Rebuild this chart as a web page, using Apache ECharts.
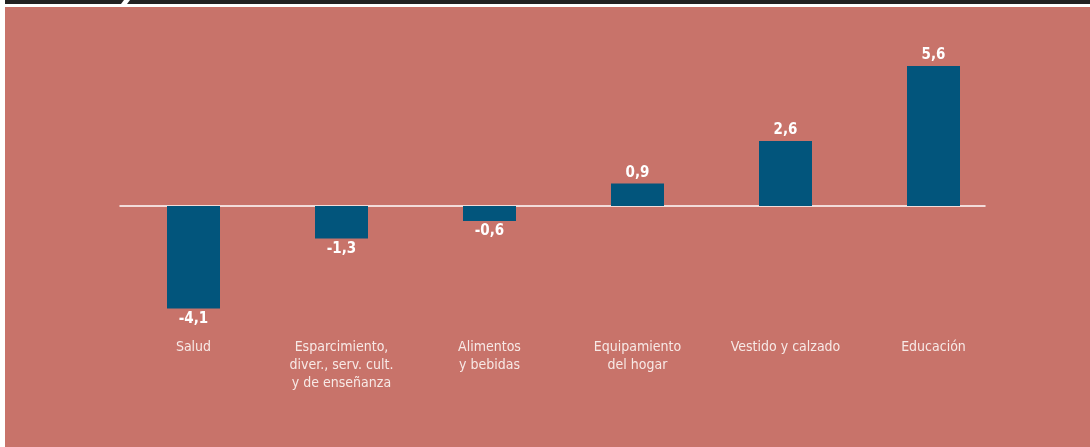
<!DOCTYPE html>
<html>
<head>
<meta charset="utf-8">
<script src="https://cdn.jsdelivr.net/npm/echarts@6/dist/echarts.min.js"></script>
<style>
  html, body { margin: 0; padding: 0; background: #ffffff; }
  #container { width: 1090px; height: 447px; }
</style>
</head>
<body>
<div id="container"></div>
<script>
var categories = [
    'Salud',
    'Esparcimiento,\ndiver., serv. cult.\ny de enseñanza',
    'Alimentos\ny bebidas',
    'Equipamiento\ndel hogar',
    'Vestido y calzado',
    'Educación'
];
var variation = [-4.1, -1.3, -0.6, 0.9, 2.6, 5.6];

var barColor = '#02557c';
var bgColor = '#c8736a';
var fontName = '"DejaVu Sans Condensed", "DejaVu Sans", sans-serif';

var dom = document.getElementById('container');
var myChart = echarts.init(dom, null, { renderer: 'canvas' });

var option = {
    backgroundColor: '#ffffff',
    animation: false,
    graphic: [
        { type: 'rect', z: -10, shape: { x: 5, y: 0, width: 1085, height: 4 }, style: { fill: '#222222' } },
        { type: 'rect', z: -10, shape: { x: 5, y: 7, width: 1085, height: 440 }, style: { fill: bgColor } },
        { type: 'polygon', z: -9, shape: { points: [[124, 0], [130, 0], [127, 4], [121, 4]] }, style: { fill: '#ffffff' } }
    ],
    grid: [
        { left: 119.5, width: 888, top: 56, height: 275 },
        { left: 120, width: 865, top: 56, height: 275 }
    ],
    xAxis: [
        {
            type: 'category',
            gridIndex: 0,
            data: categories,
            axisLine: { show: false, onZero: false },
            axisTick: { show: false },
            axisLabel: {
                margin: 7,
                color: '#f7e9e6',
                fontFamily: fontName,
                fontSize: 14,
                lineHeight: 18,
                verticalAlign: 'top'
            }
        },
        {
            type: 'value',
            gridIndex: 1,
            min: 0,
            max: 1,
            axisLine: { show: true, onZero: true, lineStyle: { color: '#ffffff', width: 1.5 } },
            axisTick: { show: false },
            axisLabel: { show: false },
            splitLine: { show: false }
        }
    ],
    yAxis: [
        { type: 'value', gridIndex: 0, min: -5, max: 6, show: false, splitLine: { show: false } },
        { type: 'value', gridIndex: 1, min: -5, max: 6, show: false, splitLine: { show: false } }
    ],
    series: [
        {
            type: 'bar',
            xAxisIndex: 0,
            yAxisIndex: 0,
            barWidth: 53,
            z: 3,
            data: variation.map(function (v) {
                return {
                    value: v,
                    label: { position: v < 0 ? 'bottom' : 'top' }
                };
            }),
            itemStyle: { color: barColor },
            label: {
                show: true,
                distance: 3,
                color: '#ffffff',
                fontFamily: fontName,
                fontWeight: 'bold',
                fontSize: 15,
                formatter: function (p) {
                    return String(p.value).replace('.', ',');
                }
            }
        }
    ]
};

myChart.setOption(option);
</script>
</body>
</html>
